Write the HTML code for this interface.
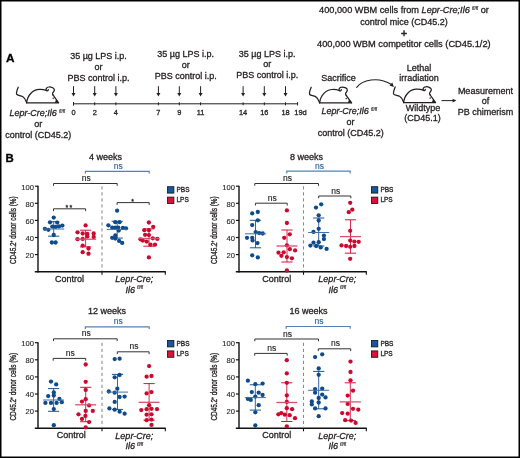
<!DOCTYPE html>
<html><head><meta charset="utf-8"><style>
html,body{margin:0;padding:0;background:#fff;}
#wrap{position:relative;width:520px;height:458px;overflow:hidden;background:#fff;}
svg{position:absolute;left:0;top:0;font-family:"Liberation Sans", sans-serif;will-change:transform;}
svg text{}
</style></head><body><div id="wrap">
<svg width="520" height="458" viewBox="0 0 520 458" stroke-width="0.3">
<text x="5.9" y="61.6" font-size="11.8" text-anchor="start" fill="#000" stroke="#000" font-weight="bold" >A</text>
<g transform="translate(0.00,0.00)" fill="none" stroke="#231f20" stroke-width="1.25" stroke-linecap="round" stroke-linejoin="round">
<path d="M18.2,87.2 C17.2,89.5 16.2,92.5 16.6,94.2 C17.5,95.6 20.5,95.3 22.6,96.5 C24.6,97.7 25.8,99.8 26.6,102.5"/>
<path d="M26.6,102.8 C27.5,95 33,89.6 39.5,89.4 C42,89.3 44.3,89.7 46.3,90.4"/>
<path d="M46.3,90.4 C45.4,89.2 46.6,87.2 48.6,87 C51,86.7 53.9,87.9 54.3,89.6 C54.7,91 53.3,92 52.7,93 C52.1,94 52.6,94.6 53.2,95.2"/>
<path d="M46.6,90.6 C47.4,91 48.2,90.6 48.3,89.6"/>
<path d="M53.2,95.2 L58.4,102.6"/>
<path d="M26.6,102.8 L58.6,102.8" stroke-width="1.2"/>
</g>
<g transform="translate(0.00,0.00)">
<path d="M54.8,102.7 L58.9,102.7 L56.2,99.2 Z" fill="#231f20"/>
<circle cx="53.2" cy="98.3" r="0.75" fill="#231f20"/>
</g>
<text x="9.5" y="116.2" font-size="9" text-anchor="start" fill="#231f20" stroke="#231f20"><tspan font-style="italic">Lepr-Cre;Il6</tspan><tspan font-size="4.7" dy="-3.3" dx="2.2" font-style="italic" stroke-width="0.15">fl/fl</tspan></text>
<text x="38.3" y="126.9" font-size="9" text-anchor="middle" fill="#231f20" stroke="#231f20" >or</text>
<text x="38.2" y="138.2" font-size="9" text-anchor="middle" fill="#231f20" stroke="#231f20" >control (CD45.2)</text>
<text x="98.5" y="58.9" font-size="9" text-anchor="middle" fill="#231f20" stroke="#231f20" >35 µg LPS i.p.</text>
<text x="98.5" y="69.7" font-size="9" text-anchor="middle" fill="#231f20" stroke="#231f20" >or</text>
<text x="98.5" y="80.7" font-size="9" text-anchor="middle" fill="#231f20" stroke="#231f20" >PBS control i.p.</text>
<text x="185.7" y="57.4" font-size="9" text-anchor="middle" fill="#231f20" stroke="#231f20" >35 µg LPS i.p.</text>
<text x="185.7" y="68.2" font-size="9" text-anchor="middle" fill="#231f20" stroke="#231f20" >or</text>
<text x="185.7" y="79.2" font-size="9" text-anchor="middle" fill="#231f20" stroke="#231f20" >PBS control i.p.</text>
<text x="267.2" y="56.6" font-size="9" text-anchor="middle" fill="#231f20" stroke="#231f20" >35 µg LPS i.p.</text>
<text x="267.2" y="67.4" font-size="9" text-anchor="middle" fill="#231f20" stroke="#231f20" >or</text>
<text x="267.2" y="78.4" font-size="9" text-anchor="middle" fill="#231f20" stroke="#231f20" >PBS control i.p.</text>
<line x1="73.3" y1="103.8" x2="297.6" y2="103.8" stroke="#231f20" stroke-width="1" />
<line x1="73.5" y1="102.1" x2="73.5" y2="105.5" stroke="#231f20" stroke-width="1" />
<line x1="297.6" y1="102.1" x2="297.6" y2="105.5" stroke="#231f20" stroke-width="1" />
<line x1="73.5" y1="102.3" x2="73.5" y2="105.3" stroke="#231f20" stroke-width="1" />
<line x1="73.5" y1="86.2" x2="73.5" y2="93.5" stroke="#231f20" stroke-width="1" />
<path d="M71.5,92.9 L75.5,92.9 L73.5,96.5 Z" fill="#231f20"/>
<text x="73.5" y="114.8" font-size="7.4" text-anchor="middle" fill="#231f20" stroke="#231f20" >0</text>
<line x1="94.7" y1="102.3" x2="94.7" y2="105.3" stroke="#231f20" stroke-width="1" />
<line x1="94.7" y1="86.2" x2="94.7" y2="93.5" stroke="#231f20" stroke-width="1" />
<path d="M92.7,92.9 L96.7,92.9 L94.7,96.5 Z" fill="#231f20"/>
<text x="94.7" y="114.8" font-size="7.4" text-anchor="middle" fill="#231f20" stroke="#231f20" >2</text>
<line x1="115.9" y1="102.3" x2="115.9" y2="105.3" stroke="#231f20" stroke-width="1" />
<line x1="115.9" y1="86.2" x2="115.9" y2="93.5" stroke="#231f20" stroke-width="1" />
<path d="M113.9,92.9 L117.9,92.9 L115.9,96.5 Z" fill="#231f20"/>
<text x="115.9" y="114.8" font-size="7.4" text-anchor="middle" fill="#231f20" stroke="#231f20" >4</text>
<line x1="158.4" y1="102.3" x2="158.4" y2="105.3" stroke="#231f20" stroke-width="1" />
<line x1="158.4" y1="86.2" x2="158.4" y2="93.5" stroke="#231f20" stroke-width="1" />
<path d="M156.4,92.9 L160.4,92.9 L158.4,96.5 Z" fill="#231f20"/>
<text x="158.4" y="114.8" font-size="7.4" text-anchor="middle" fill="#231f20" stroke="#231f20" >7</text>
<line x1="179.3" y1="102.3" x2="179.3" y2="105.3" stroke="#231f20" stroke-width="1" />
<line x1="179.3" y1="86.2" x2="179.3" y2="93.5" stroke="#231f20" stroke-width="1" />
<path d="M177.3,92.9 L181.3,92.9 L179.3,96.5 Z" fill="#231f20"/>
<text x="179.3" y="114.8" font-size="7.4" text-anchor="middle" fill="#231f20" stroke="#231f20" >9</text>
<line x1="200.6" y1="102.3" x2="200.6" y2="105.3" stroke="#231f20" stroke-width="1" />
<line x1="200.6" y1="86.2" x2="200.6" y2="93.5" stroke="#231f20" stroke-width="1" />
<path d="M198.6,92.9 L202.6,92.9 L200.6,96.5 Z" fill="#231f20"/>
<text x="200.6" y="114.8" font-size="7.4" text-anchor="middle" fill="#231f20" stroke="#231f20" >11</text>
<line x1="243.1" y1="102.3" x2="243.1" y2="105.3" stroke="#231f20" stroke-width="1" />
<line x1="243.1" y1="86.2" x2="243.1" y2="93.5" stroke="#231f20" stroke-width="1" />
<path d="M241.1,92.9 L245.1,92.9 L243.1,96.5 Z" fill="#231f20"/>
<text x="243.1" y="114.8" font-size="7.4" text-anchor="middle" fill="#231f20" stroke="#231f20" >14</text>
<line x1="264.3" y1="102.3" x2="264.3" y2="105.3" stroke="#231f20" stroke-width="1" />
<line x1="264.3" y1="86.2" x2="264.3" y2="93.5" stroke="#231f20" stroke-width="1" />
<path d="M262.3,92.9 L266.3,92.9 L264.3,96.5 Z" fill="#231f20"/>
<text x="264.3" y="114.8" font-size="7.4" text-anchor="middle" fill="#231f20" stroke="#231f20" >16</text>
<line x1="285.5" y1="102.3" x2="285.5" y2="105.3" stroke="#231f20" stroke-width="1" />
<line x1="285.5" y1="86.2" x2="285.5" y2="93.5" stroke="#231f20" stroke-width="1" />
<path d="M283.5,92.9 L287.5,92.9 L285.5,96.5 Z" fill="#231f20"/>
<text x="285.5" y="114.8" font-size="7.4" text-anchor="middle" fill="#231f20" stroke="#231f20" >18</text>
<text x="300.5" y="114.8" font-size="7.5" text-anchor="middle" fill="#231f20" stroke="#231f20" >19d</text>
<text x="404" y="13.5" font-size="9" text-anchor="middle" fill="#231f20" stroke="#231f20" transform="translate(404,0) scale(1.02,1) translate(-404,0)">400,000 WBM cells from <tspan font-style="italic">Lepr-Cre;Il6</tspan><tspan font-size="4.7" dy="-3.3" dx="2.2" font-style="italic" stroke-width="0.15">fl/fl</tspan><tspan dy="3.1"> or</tspan></text>
<text x="404" y="24.6" font-size="9" text-anchor="middle" fill="#231f20" stroke="#231f20" >control mice (CD45.2)</text>
<text x="404" y="37.0" font-size="10.5" text-anchor="middle" fill="#231f20" stroke="#231f20" stroke-width="0.5">+</text>
<text x="403.85" y="46.5" font-size="9" text-anchor="middle" fill="#231f20" stroke="#231f20" textLength="173.6" lengthAdjust="spacingAndGlyphs">400,000 WBM competitor cells (CD45.1/2)</text>
<text x="338.5" y="80.8" font-size="9" text-anchor="middle" fill="#231f20" stroke="#231f20" >Sacrifice</text>
<g transform="translate(293.00,0.10)" fill="none" stroke="#231f20" stroke-width="1.25" stroke-linecap="round" stroke-linejoin="round">
<path d="M18.2,87.2 C17.2,89.5 16.2,92.5 16.6,94.2 C17.5,95.6 20.5,95.3 22.6,96.5 C24.6,97.7 25.8,99.8 26.6,102.5"/>
<path d="M26.6,102.8 C27.5,95 33,89.6 39.5,89.4 C42,89.3 44.3,89.7 46.3,90.4"/>
<path d="M46.3,90.4 C45.4,89.2 46.6,87.2 48.6,87 C51,86.7 53.9,87.9 54.3,89.6 C54.7,91 53.3,92 52.7,93 C52.1,94 52.6,94.6 53.2,95.2"/>
<path d="M46.6,90.6 C47.4,91 48.2,90.6 48.3,89.6"/>
<path d="M53.2,95.2 L58.4,102.6"/>
<path d="M26.6,102.8 L58.6,102.8" stroke-width="1.2"/>
</g>
<g transform="translate(293.00,0.10)">
<path d="M54.8,102.7 L58.9,102.7 L56.2,99.2 Z" fill="#231f20"/>
<circle cx="53.2" cy="98.3" r="0.75" fill="#231f20"/>
</g>
<text x="321.5" y="113.8" font-size="9" text-anchor="start" fill="#231f20" stroke="#231f20"><tspan font-style="italic">Lepr-Cre;Il6</tspan><tspan font-size="4.7" dy="-3.3" dx="2.2" font-style="italic" stroke-width="0.15">fl/fl</tspan></text>
<text x="350.4" y="124.6" font-size="9" text-anchor="middle" fill="#231f20" stroke="#231f20" >or</text>
<text x="350.8" y="135.8" font-size="9" text-anchor="middle" fill="#231f20" stroke="#231f20" >control (CD45.2)</text>
<path d="M356.4,87.6 C362,80 378,76 391.5,84.6" fill="none" stroke="#231f20" stroke-width="1.2"/>
<path d="M393.9,87 L389.6,85.4 L392.3,82.6 Z" fill="#231f20"/>
<text x="419" y="70.9" font-size="9" text-anchor="middle" fill="#231f20" stroke="#231f20" >Lethal</text>
<text x="419" y="81" font-size="9" text-anchor="middle" fill="#231f20" stroke="#231f20" >irradiation</text>
<g transform="translate(377.00,-0.20)" fill="none" stroke="#231f20" stroke-width="1.25" stroke-linecap="round" stroke-linejoin="round">
<path d="M18.2,87.2 C17.2,89.5 16.2,92.5 16.6,94.2 C17.5,95.6 20.5,95.3 22.6,96.5 C24.6,97.7 25.8,99.8 26.6,102.5"/>
<path d="M26.6,102.8 C27.5,95 33,89.6 39.5,89.4 C42,89.3 44.3,89.7 46.3,90.4"/>
<path d="M46.3,90.4 C45.4,89.2 46.6,87.2 48.6,87 C51,86.7 53.9,87.9 54.3,89.6 C54.7,91 53.3,92 52.7,93 C52.1,94 52.6,94.6 53.2,95.2"/>
<path d="M46.6,90.6 C47.4,91 48.2,90.6 48.3,89.6"/>
<path d="M53.2,95.2 L58.4,102.6"/>
<path d="M26.6,102.8 L58.6,102.8" stroke-width="1.2"/>
</g>
<g transform="translate(377.00,-0.20)">
<path d="M54.8,102.7 L58.9,102.7 L56.2,99.2 Z" fill="#231f20"/>
<circle cx="53.2" cy="98.3" r="0.75" fill="#231f20"/>
</g>
<text x="423" y="111.2" font-size="9" text-anchor="middle" fill="#231f20" stroke="#231f20" >Wildtype</text>
<text x="422.6" y="121.3" font-size="9" text-anchor="middle" fill="#231f20" stroke="#231f20" >(CD45.1)</text>
<line x1="441.5" y1="100.6" x2="453.5" y2="100.6" stroke="#231f20" stroke-width="1" />
<path d="M452.6,98.8 L456.4,100.6 L452.6,102.4 Z" fill="#231f20"/>
<text x="485.4" y="93.7" font-size="9" text-anchor="middle" fill="#231f20" stroke="#231f20" >Measurement</text>
<text x="485.4" y="104.3" font-size="9" text-anchor="middle" fill="#231f20" stroke="#231f20" >of</text>
<text x="485.4" y="115.1" font-size="9" text-anchor="middle" fill="#231f20" stroke="#231f20" >PB chimerism</text>
<text x="5.4" y="162.1" font-size="11.4" text-anchor="start" fill="#000" stroke="#000" font-weight="bold" >B</text>
<text x="105.6" y="160" font-size="9" text-anchor="middle" fill="#231f20" stroke="#231f20" >4 weeks</text>
<line x1="38" y1="185.7" x2="38" y2="272.4" stroke="#111" stroke-width="1.4" />
<line x1="34.9" y1="186.2" x2="38" y2="186.2" stroke="#111" stroke-width="1.15" />
<text x="33.9" y="189.5" font-size="7.6" text-anchor="end" fill="#231f20" stroke="#231f20" stroke-width="0.12">100</text>
<line x1="34.9" y1="203.3" x2="38" y2="203.3" stroke="#111" stroke-width="1.15" />
<text x="33.9" y="206.6" font-size="7.6" text-anchor="end" fill="#231f20" stroke="#231f20" stroke-width="0.12">80</text>
<line x1="34.9" y1="220.4" x2="38" y2="220.4" stroke="#111" stroke-width="1.15" />
<text x="33.9" y="223.7" font-size="7.6" text-anchor="end" fill="#231f20" stroke="#231f20" stroke-width="0.12">60</text>
<line x1="34.9" y1="237.5" x2="38" y2="237.5" stroke="#111" stroke-width="1.15" />
<text x="33.9" y="240.8" font-size="7.6" text-anchor="end" fill="#231f20" stroke="#231f20" stroke-width="0.12">40</text>
<line x1="34.9" y1="254.6" x2="38" y2="254.6" stroke="#111" stroke-width="1.15" />
<text x="33.9" y="257.9" font-size="7.6" text-anchor="end" fill="#231f20" stroke="#231f20" stroke-width="0.12">20</text>
<line x1="34.8" y1="271.7" x2="165.8" y2="271.7" stroke="#111" stroke-width="1.4" />
<line x1="165.3" y1="271.7" x2="165.3" y2="274.8" stroke="#111" stroke-width="1.1" />
<line x1="102" y1="271.7" x2="102" y2="274.8" stroke="#111" stroke-width="1.1" />
<line x1="102" y1="186.2" x2="102" y2="271.2" stroke="#8a8a8a" stroke-width="1.05" stroke-dasharray="3.4,2.6"/>
<text transform="translate(16.0,230.2) rotate(-90)" font-size="8.8" stroke-width="0.35" text-anchor="middle" fill="#231f20" stroke="#231f20" textLength="67.6" lengthAdjust="spacingAndGlyphs">CD45.2<tspan font-size="4.5" dy="-2.6">+</tspan><tspan dy="2.6"> donor cells (%)</tspan></text>
<text x="69.5" y="281.9" font-size="9" text-anchor="middle" fill="#231f20" stroke="#231f20" >Control</text>
<text x="134.3" y="282.2" font-size="9" text-anchor="middle" fill="#231f20" stroke="#231f20" font-style="italic" >Lepr-Cre;</text>
<text x="125.4" y="292.7" font-size="9" fill="#231f20" stroke="#231f20" font-style="italic">Il6<tspan font-size="4.7" dy="-3.3" dx="2.2" stroke-width="0.15">fl/fl</tspan></text>
<rect x="167.5" y="186.7" width="6.4" height="6.4" fill="#195896" stroke="#111" stroke-width="0.8"/>
<rect x="167.5" y="197.1" width="6.4" height="6.4" fill="#d4153b" stroke="#111" stroke-width="0.8"/>
<text x="176.5" y="191.8" font-size="6.5" text-anchor="start" fill="#231f20" stroke="#231f20" >PBS</text>
<text x="176.5" y="202.2" font-size="6.5" text-anchor="start" fill="#231f20" stroke="#231f20" >LPS</text>
<path d="M53.5,185.8 L53.5,183.5 L117.2,183.5 L117.2,185.8" fill="none" stroke="#333" stroke-width="1.0"/>
<text x="86.25" y="180.9" font-size="8.5" text-anchor="middle" fill="#231f20" stroke="#231f20" stroke-width="0.15">ns</text>
<path d="M85.4,173.60000000000002 L85.4,171.3 L149.2,171.3 L149.2,173.60000000000002" fill="none" stroke="#5283b6" stroke-width="1.2"/>
<text x="118.2" y="168.5" font-size="8.5" text-anchor="middle" fill="#2e65a0" stroke="#2e65a0" stroke-width="0.15">ns</text>
<path d="M53.5,211.10000000000002 L53.5,208.8 L85.6,208.8 L85.6,211.10000000000002" fill="none" stroke="#333" stroke-width="1.0"/>
<text x="69.55" y="209.9" font-size="7" text-anchor="middle" fill="#231f20" stroke="#231f20" letter-spacing="1.2">**</text>
<path d="M117.1,204.9 L117.1,202.6 L149.2,202.6 L149.2,204.9" fill="none" stroke="#333" stroke-width="1.0"/>
<text x="133.15" y="203.7" font-size="7" text-anchor="middle" fill="#231f20" stroke="#231f20" letter-spacing="1.2">*</text>
<line x1="53.7" y1="221.7" x2="53.7" y2="236.2" stroke="#0e4b8c" stroke-width="0.85" />
<line x1="48.1" y1="221.7" x2="59.300000000000004" y2="221.7" stroke="#0e4b8c" stroke-width="0.95" />
<line x1="48.1" y1="236.2" x2="59.300000000000004" y2="236.2" stroke="#0e4b8c" stroke-width="0.95" />
<circle cx="53.7" cy="217.6" r="2.15" fill="#0e4b8c"/>
<circle cx="50" cy="222.3" r="2.15" fill="#0e4b8c"/>
<circle cx="57.2" cy="222.6" r="2.15" fill="#0e4b8c"/>
<circle cx="52.3" cy="226.6" r="2.15" fill="#0e4b8c"/>
<circle cx="55.6" cy="226.9" r="2.15" fill="#0e4b8c"/>
<circle cx="59" cy="226.4" r="2.15" fill="#0e4b8c"/>
<circle cx="62.4" cy="225.6" r="2.15" fill="#0e4b8c"/>
<circle cx="44.9" cy="228.8" r="2.15" fill="#0e4b8c"/>
<circle cx="48.4" cy="229.8" r="2.15" fill="#0e4b8c"/>
<circle cx="53.7" cy="235" r="2.15" fill="#0e4b8c"/>
<circle cx="51.9" cy="242.5" r="2.15" fill="#0e4b8c"/>
<circle cx="55.6" cy="242.5" r="2.15" fill="#0e4b8c"/>
<line x1="43.2" y1="229.0" x2="64.2" y2="229.0" stroke="#3f70a6" stroke-width="1.0" />
<line x1="85.6" y1="230.2" x2="85.6" y2="246.9" stroke="#cc0a2e" stroke-width="0.85" />
<line x1="80.0" y1="230.2" x2="91.19999999999999" y2="230.2" stroke="#cc0a2e" stroke-width="0.95" />
<line x1="80.0" y1="246.9" x2="91.19999999999999" y2="246.9" stroke="#cc0a2e" stroke-width="0.95" />
<circle cx="85.6" cy="225.4" r="2.15" fill="#cc0a2e"/>
<circle cx="77.5" cy="232.3" r="2.15" fill="#cc0a2e"/>
<circle cx="82.7" cy="233.5" r="2.15" fill="#cc0a2e"/>
<circle cx="87.3" cy="234" r="2.15" fill="#cc0a2e"/>
<circle cx="93.7" cy="233.5" r="2.15" fill="#cc0a2e"/>
<circle cx="87.3" cy="236.5" r="2.15" fill="#cc0a2e"/>
<circle cx="93.7" cy="237" r="2.15" fill="#cc0a2e"/>
<circle cx="77.5" cy="239.2" r="2.15" fill="#cc0a2e"/>
<circle cx="82.7" cy="238.9" r="2.15" fill="#cc0a2e"/>
<circle cx="82.7" cy="245.6" r="2.15" fill="#cc0a2e"/>
<circle cx="88.5" cy="248.5" r="2.15" fill="#cc0a2e"/>
<circle cx="82.7" cy="252.2" r="2.15" fill="#cc0a2e"/>
<circle cx="88.5" cy="253.7" r="2.15" fill="#cc0a2e"/>
<line x1="75.1" y1="239.2" x2="96.1" y2="239.2" stroke="#d8506c" stroke-width="1.3" />
<line x1="117.2" y1="221.3" x2="117.2" y2="238.1" stroke="#0e4b8c" stroke-width="0.85" />
<line x1="111.60000000000001" y1="221.3" x2="122.8" y2="221.3" stroke="#0e4b8c" stroke-width="0.95" />
<line x1="111.60000000000001" y1="238.1" x2="122.8" y2="238.1" stroke="#0e4b8c" stroke-width="0.95" />
<circle cx="117.1" cy="210.7" r="2.15" fill="#0e4b8c"/>
<circle cx="115.3" cy="222.2" r="2.15" fill="#0e4b8c"/>
<circle cx="119.5" cy="222.2" r="2.15" fill="#0e4b8c"/>
<circle cx="108.4" cy="225.3" r="2.15" fill="#0e4b8c"/>
<circle cx="112.2" cy="227.6" r="2.15" fill="#0e4b8c"/>
<circle cx="115.3" cy="227.6" r="2.15" fill="#0e4b8c"/>
<circle cx="118.3" cy="227.6" r="2.15" fill="#0e4b8c"/>
<circle cx="122.9" cy="227.9" r="2.15" fill="#0e4b8c"/>
<circle cx="126" cy="228.3" r="2.15" fill="#0e4b8c"/>
<circle cx="118.7" cy="230.6" r="2.15" fill="#0e4b8c"/>
<circle cx="115.3" cy="235.5" r="2.15" fill="#0e4b8c"/>
<circle cx="112.2" cy="237.8" r="2.15" fill="#0e4b8c"/>
<circle cx="115.3" cy="238.6" r="2.15" fill="#0e4b8c"/>
<circle cx="119.1" cy="240.9" r="2.15" fill="#0e4b8c"/>
<circle cx="122.2" cy="242.9" r="2.15" fill="#0e4b8c"/>
<line x1="106.7" y1="229.4" x2="127.7" y2="229.4" stroke="#3f70a6" stroke-width="1.0" />
<line x1="149" y1="228.9" x2="149" y2="246.2" stroke="#cc0a2e" stroke-width="0.85" />
<line x1="143.4" y1="228.9" x2="154.6" y2="228.9" stroke="#cc0a2e" stroke-width="0.95" />
<line x1="143.4" y1="246.2" x2="154.6" y2="246.2" stroke="#cc0a2e" stroke-width="0.95" />
<circle cx="148.9" cy="222.5" r="2.15" fill="#cc0a2e"/>
<circle cx="153.2" cy="226.8" r="2.15" fill="#cc0a2e"/>
<circle cx="144.3" cy="230.2" r="2.15" fill="#cc0a2e"/>
<circle cx="148.9" cy="230.2" r="2.15" fill="#cc0a2e"/>
<circle cx="145.1" cy="234.8" r="2.15" fill="#cc0a2e"/>
<circle cx="148.9" cy="235.1" r="2.15" fill="#cc0a2e"/>
<circle cx="140.5" cy="239.3" r="2.15" fill="#cc0a2e"/>
<circle cx="142.8" cy="240.6" r="2.15" fill="#cc0a2e"/>
<circle cx="152.8" cy="238.3" r="2.15" fill="#cc0a2e"/>
<circle cx="157.3" cy="238.9" r="2.15" fill="#cc0a2e"/>
<circle cx="146.6" cy="241.6" r="2.15" fill="#cc0a2e"/>
<circle cx="150.5" cy="244.7" r="2.15" fill="#cc0a2e"/>
<circle cx="155" cy="244.7" r="2.15" fill="#cc0a2e"/>
<circle cx="148.9" cy="257.4" r="2.15" fill="#cc0a2e"/>
<line x1="138.5" y1="238.5" x2="159.5" y2="238.5" stroke="#d8506c" stroke-width="1.3" />
<text x="306.6" y="160.4" font-size="9" text-anchor="middle" fill="#231f20" stroke="#231f20" >8 weeks</text>
<line x1="239" y1="185.7" x2="239" y2="272.4" stroke="#111" stroke-width="1.4" />
<line x1="235.9" y1="186.2" x2="239" y2="186.2" stroke="#111" stroke-width="1.15" />
<text x="234.9" y="189.5" font-size="7.6" text-anchor="end" fill="#231f20" stroke="#231f20" stroke-width="0.12">100</text>
<line x1="235.9" y1="203.3" x2="239" y2="203.3" stroke="#111" stroke-width="1.15" />
<text x="234.9" y="206.6" font-size="7.6" text-anchor="end" fill="#231f20" stroke="#231f20" stroke-width="0.12">80</text>
<line x1="235.9" y1="220.4" x2="239" y2="220.4" stroke="#111" stroke-width="1.15" />
<text x="234.9" y="223.7" font-size="7.6" text-anchor="end" fill="#231f20" stroke="#231f20" stroke-width="0.12">60</text>
<line x1="235.9" y1="237.5" x2="239" y2="237.5" stroke="#111" stroke-width="1.15" />
<text x="234.9" y="240.8" font-size="7.6" text-anchor="end" fill="#231f20" stroke="#231f20" stroke-width="0.12">40</text>
<line x1="235.9" y1="254.6" x2="239" y2="254.6" stroke="#111" stroke-width="1.15" />
<text x="234.9" y="257.9" font-size="7.6" text-anchor="end" fill="#231f20" stroke="#231f20" stroke-width="0.12">20</text>
<line x1="235.8" y1="271.7" x2="366.8" y2="271.7" stroke="#111" stroke-width="1.4" />
<line x1="366.3" y1="271.7" x2="366.3" y2="274.8" stroke="#111" stroke-width="1.1" />
<line x1="303.5" y1="271.7" x2="303.5" y2="274.8" stroke="#111" stroke-width="1.1" />
<line x1="303.5" y1="186.2" x2="303.5" y2="271.2" stroke="#8a8a8a" stroke-width="1.05" stroke-dasharray="3.4,2.6"/>
<text transform="translate(217.0,230.2) rotate(-90)" font-size="8.8" stroke-width="0.35" text-anchor="middle" fill="#231f20" stroke="#231f20" textLength="67.6" lengthAdjust="spacingAndGlyphs">CD45.2<tspan font-size="4.5" dy="-2.6">+</tspan><tspan dy="2.6"> donor cells (%)</tspan></text>
<text x="276.7" y="281.9" font-size="9" text-anchor="middle" fill="#231f20" stroke="#231f20" >Control</text>
<text x="337.3" y="282.2" font-size="9" text-anchor="middle" fill="#231f20" stroke="#231f20" font-style="italic" >Lepr-Cre;</text>
<text x="328.4" y="292.7" font-size="9" fill="#231f20" stroke="#231f20" font-style="italic">Il6<tspan font-size="4.7" dy="-3.3" dx="2.2" stroke-width="0.15">fl/fl</tspan></text>
<rect x="371.4" y="186.7" width="6.4" height="6.4" fill="#195896" stroke="#111" stroke-width="0.8"/>
<rect x="371.4" y="197.1" width="6.4" height="6.4" fill="#d4153b" stroke="#111" stroke-width="0.8"/>
<text x="380.4" y="191.8" font-size="6.5" text-anchor="start" fill="#231f20" stroke="#231f20" >PBS</text>
<text x="380.4" y="202.2" font-size="6.5" text-anchor="start" fill="#231f20" stroke="#231f20" >LPS</text>
<path d="M254.8,185.8 L254.8,183.5 L318.5,183.5 L318.5,185.8" fill="none" stroke="#333" stroke-width="1.0"/>
<text x="287.55" y="180.9" font-size="8.5" text-anchor="middle" fill="#231f20" stroke="#231f20" stroke-width="0.15">ns</text>
<path d="M286.8,173.5 L286.8,171.2 L350.2,171.2 L350.2,173.5" fill="none" stroke="#5283b6" stroke-width="1.2"/>
<text x="319.4" y="168.5" font-size="8.5" text-anchor="middle" fill="#2e65a0" stroke="#2e65a0" stroke-width="0.15">ns</text>
<path d="M255.4,205.5 L255.4,203.2 L287.2,203.2 L287.2,205.5" fill="none" stroke="#333" stroke-width="1.0"/>
<text x="272.2" y="201.3" font-size="8.5" text-anchor="middle" fill="#231f20" stroke="#231f20" stroke-width="0.15">ns</text>
<path d="M318.7,198.3 L318.7,196.0 L350.8,196.0 L350.8,198.3" fill="none" stroke="#333" stroke-width="1.0"/>
<text x="335.65" y="194.0" font-size="8.5" text-anchor="middle" fill="#231f20" stroke="#231f20" stroke-width="0.15">ns</text>
<line x1="255.5" y1="220.3" x2="255.5" y2="247.8" stroke="#0e4b8c" stroke-width="0.85" />
<line x1="249.9" y1="220.3" x2="261.1" y2="220.3" stroke="#0e4b8c" stroke-width="0.95" />
<line x1="249.9" y1="247.8" x2="261.1" y2="247.8" stroke="#0e4b8c" stroke-width="0.95" />
<circle cx="252.2" cy="213.4" r="2.15" fill="#0e4b8c"/>
<circle cx="257.8" cy="212" r="2.15" fill="#0e4b8c"/>
<circle cx="257.8" cy="220.3" r="2.15" fill="#0e4b8c"/>
<circle cx="252.2" cy="225.1" r="2.15" fill="#0e4b8c"/>
<circle cx="255.7" cy="232.1" r="2.15" fill="#0e4b8c"/>
<circle cx="259.2" cy="233.1" r="2.15" fill="#0e4b8c"/>
<circle cx="262.7" cy="233.5" r="2.15" fill="#0e4b8c"/>
<circle cx="247" cy="237.8" r="2.15" fill="#0e4b8c"/>
<circle cx="252.2" cy="237.8" r="2.15" fill="#0e4b8c"/>
<circle cx="252.6" cy="240.4" r="2.15" fill="#0e4b8c"/>
<circle cx="257.5" cy="243.1" r="2.15" fill="#0e4b8c"/>
<circle cx="252.2" cy="255.3" r="2.15" fill="#0e4b8c"/>
<circle cx="257.8" cy="257.4" r="2.15" fill="#0e4b8c"/>
<line x1="245.0" y1="233.8" x2="266.0" y2="233.8" stroke="#3f70a6" stroke-width="1.0" />
<line x1="287" y1="230" x2="287" y2="262" stroke="#cc0a2e" stroke-width="0.85" />
<line x1="281.4" y1="230" x2="292.6" y2="230" stroke="#cc0a2e" stroke-width="0.95" />
<line x1="281.4" y1="262" x2="292.6" y2="262" stroke="#cc0a2e" stroke-width="0.95" />
<circle cx="286.9" cy="210.4" r="2.15" fill="#cc0a2e"/>
<circle cx="286.9" cy="223" r="2.15" fill="#cc0a2e"/>
<circle cx="289.8" cy="234.3" r="2.15" fill="#cc0a2e"/>
<circle cx="284.2" cy="237.8" r="2.15" fill="#cc0a2e"/>
<circle cx="286.9" cy="245.3" r="2.15" fill="#cc0a2e"/>
<circle cx="289.8" cy="249.2" r="2.15" fill="#cc0a2e"/>
<circle cx="295.1" cy="250.4" r="2.15" fill="#cc0a2e"/>
<circle cx="278.5" cy="252.7" r="2.15" fill="#cc0a2e"/>
<circle cx="283.7" cy="252.3" r="2.15" fill="#cc0a2e"/>
<circle cx="281.4" cy="255.8" r="2.15" fill="#cc0a2e"/>
<circle cx="286.9" cy="257.1" r="2.15" fill="#cc0a2e"/>
<circle cx="291.9" cy="258.3" r="2.15" fill="#cc0a2e"/>
<circle cx="286.9" cy="270.5" r="2.15" fill="#cc0a2e"/>
<line x1="276.5" y1="246" x2="297.5" y2="246" stroke="#d8506c" stroke-width="1.3" />
<line x1="318.7" y1="218" x2="318.7" y2="246" stroke="#0e4b8c" stroke-width="0.85" />
<line x1="313.09999999999997" y1="218" x2="324.3" y2="218" stroke="#0e4b8c" stroke-width="0.95" />
<line x1="313.09999999999997" y1="246" x2="324.3" y2="246" stroke="#0e4b8c" stroke-width="0.95" />
<circle cx="321.2" cy="204.3" r="2.15" fill="#0e4b8c"/>
<circle cx="316" cy="207.6" r="2.15" fill="#0e4b8c"/>
<circle cx="318.7" cy="215.3" r="2.15" fill="#0e4b8c"/>
<circle cx="318.7" cy="220.5" r="2.15" fill="#0e4b8c"/>
<circle cx="318.7" cy="228.8" r="2.15" fill="#0e4b8c"/>
<circle cx="313.5" cy="231.9" r="2.15" fill="#0e4b8c"/>
<circle cx="323.9" cy="235.6" r="2.15" fill="#0e4b8c"/>
<circle cx="323.9" cy="239.1" r="2.15" fill="#0e4b8c"/>
<circle cx="318.7" cy="242.2" r="2.15" fill="#0e4b8c"/>
<circle cx="313.5" cy="242.7" r="2.15" fill="#0e4b8c"/>
<circle cx="310.4" cy="245.6" r="2.15" fill="#0e4b8c"/>
<circle cx="316.2" cy="246" r="2.15" fill="#0e4b8c"/>
<circle cx="320.7" cy="247.4" r="2.15" fill="#0e4b8c"/>
<circle cx="326.6" cy="248.9" r="2.15" fill="#0e4b8c"/>
<line x1="308.2" y1="232.5" x2="329.2" y2="232.5" stroke="#3f70a6" stroke-width="1.0" />
<line x1="350.5" y1="219.8" x2="350.5" y2="253.2" stroke="#cc0a2e" stroke-width="0.85" />
<line x1="344.9" y1="219.8" x2="356.1" y2="219.8" stroke="#cc0a2e" stroke-width="0.95" />
<line x1="344.9" y1="253.2" x2="356.1" y2="253.2" stroke="#cc0a2e" stroke-width="0.95" />
<circle cx="350.2" cy="202.8" r="2.15" fill="#cc0a2e"/>
<circle cx="352.3" cy="209.7" r="2.15" fill="#cc0a2e"/>
<circle cx="348.8" cy="212.2" r="2.15" fill="#cc0a2e"/>
<circle cx="350.2" cy="230.8" r="2.15" fill="#cc0a2e"/>
<circle cx="350.2" cy="240.6" r="2.15" fill="#cc0a2e"/>
<circle cx="354.4" cy="241.6" r="2.15" fill="#cc0a2e"/>
<circle cx="358.7" cy="241.8" r="2.15" fill="#cc0a2e"/>
<circle cx="341.5" cy="245.4" r="2.15" fill="#cc0a2e"/>
<circle cx="346.1" cy="246" r="2.15" fill="#cc0a2e"/>
<circle cx="350.2" cy="246.8" r="2.15" fill="#cc0a2e"/>
<circle cx="354.4" cy="246" r="2.15" fill="#cc0a2e"/>
<circle cx="350.2" cy="258.8" r="2.15" fill="#cc0a2e"/>
<line x1="340.0" y1="236.6" x2="361.0" y2="236.6" stroke="#d8506c" stroke-width="1.3" />
<text x="107" y="314.2" font-size="9" text-anchor="middle" fill="#231f20" stroke="#231f20" >12 weeks</text>
<line x1="38" y1="342.2" x2="38" y2="428.9" stroke="#111" stroke-width="1.4" />
<line x1="34.9" y1="342.7" x2="38" y2="342.7" stroke="#111" stroke-width="1.15" />
<text x="33.9" y="346.0" font-size="7.6" text-anchor="end" fill="#231f20" stroke="#231f20" stroke-width="0.12">100</text>
<line x1="34.9" y1="359.8" x2="38" y2="359.8" stroke="#111" stroke-width="1.15" />
<text x="33.9" y="363.1" font-size="7.6" text-anchor="end" fill="#231f20" stroke="#231f20" stroke-width="0.12">80</text>
<line x1="34.9" y1="376.9" x2="38" y2="376.9" stroke="#111" stroke-width="1.15" />
<text x="33.9" y="380.2" font-size="7.6" text-anchor="end" fill="#231f20" stroke="#231f20" stroke-width="0.12">60</text>
<line x1="34.9" y1="394.0" x2="38" y2="394.0" stroke="#111" stroke-width="1.15" />
<text x="33.9" y="397.3" font-size="7.6" text-anchor="end" fill="#231f20" stroke="#231f20" stroke-width="0.12">40</text>
<line x1="34.9" y1="411.1" x2="38" y2="411.1" stroke="#111" stroke-width="1.15" />
<text x="33.9" y="414.4" font-size="7.6" text-anchor="end" fill="#231f20" stroke="#231f20" stroke-width="0.12">20</text>
<line x1="34.8" y1="428.2" x2="165.8" y2="428.2" stroke="#111" stroke-width="1.4" />
<line x1="165.3" y1="428.2" x2="165.3" y2="431.3" stroke="#111" stroke-width="1.1" />
<line x1="102" y1="428.2" x2="102" y2="431.3" stroke="#111" stroke-width="1.1" />
<line x1="102" y1="342.7" x2="102" y2="427.7" stroke="#8a8a8a" stroke-width="1.05" stroke-dasharray="3.4,2.6"/>
<text transform="translate(16.0,386.7) rotate(-90)" font-size="8.8" stroke-width="0.35" text-anchor="middle" fill="#231f20" stroke="#231f20" textLength="67.6" lengthAdjust="spacingAndGlyphs">CD45.2<tspan font-size="4.5" dy="-2.6">+</tspan><tspan dy="2.6"> donor cells (%)</tspan></text>
<text x="71.35" y="438.4" font-size="9" text-anchor="middle" fill="#231f20" stroke="#231f20" >Control</text>
<text x="134.3" y="438.7" font-size="9" text-anchor="middle" fill="#231f20" stroke="#231f20" font-style="italic" >Lepr-Cre;</text>
<text x="125.4" y="449.2" font-size="9" fill="#231f20" stroke="#231f20" font-style="italic">Il6<tspan font-size="4.7" dy="-3.3" dx="2.2" stroke-width="0.15">fl/fl</tspan></text>
<rect x="167.5" y="340.5" width="6.4" height="6.4" fill="#195896" stroke="#111" stroke-width="0.8"/>
<rect x="167.5" y="350.9" width="6.4" height="6.4" fill="#d4153b" stroke="#111" stroke-width="0.8"/>
<text x="176.5" y="345.6" font-size="6.5" text-anchor="start" fill="#231f20" stroke="#231f20" >PBS</text>
<text x="176.5" y="356.0" font-size="6.5" text-anchor="start" fill="#231f20" stroke="#231f20" >LPS</text>
<path d="M53.5,341.1 L53.5,338.8 L117.2,338.8 L117.2,341.1" fill="none" stroke="#333" stroke-width="1.0"/>
<text x="86.25" y="336.3" font-size="8.5" text-anchor="middle" fill="#231f20" stroke="#231f20" stroke-width="0.15">ns</text>
<path d="M85.3,329.1 L85.3,326.8 L149.2,326.8 L149.2,329.1" fill="none" stroke="#5283b6" stroke-width="1.2"/>
<text x="118.15" y="324.4" font-size="8.5" text-anchor="middle" fill="#2e65a0" stroke="#2e65a0" stroke-width="0.15">ns</text>
<path d="M53.2,360.7 L53.2,358.4 L85.7,358.4 L85.7,360.7" fill="none" stroke="#333" stroke-width="1.0"/>
<text x="70.35" y="355.9" font-size="8.5" text-anchor="middle" fill="#231f20" stroke="#231f20" stroke-width="0.15">ns</text>
<path d="M117.3,354.1 L117.3,351.8 L149.1,351.8 L149.1,354.1" fill="none" stroke="#333" stroke-width="1.0"/>
<text x="134.1" y="349.3" font-size="8.5" text-anchor="middle" fill="#231f20" stroke="#231f20" stroke-width="0.15">ns</text>
<line x1="53.6" y1="388.6" x2="53.6" y2="411.3" stroke="#0e4b8c" stroke-width="0.85" />
<line x1="48.0" y1="388.6" x2="59.2" y2="388.6" stroke="#0e4b8c" stroke-width="0.95" />
<line x1="48.0" y1="411.3" x2="59.2" y2="411.3" stroke="#0e4b8c" stroke-width="0.95" />
<circle cx="51" cy="381.6" r="2.15" fill="#0e4b8c"/>
<circle cx="56.2" cy="384.4" r="2.15" fill="#0e4b8c"/>
<circle cx="53.8" cy="392.4" r="2.15" fill="#0e4b8c"/>
<circle cx="48.2" cy="396.1" r="2.15" fill="#0e4b8c"/>
<circle cx="53.8" cy="395.5" r="2.15" fill="#0e4b8c"/>
<circle cx="59.4" cy="398.9" r="2.15" fill="#0e4b8c"/>
<circle cx="45.4" cy="402.9" r="2.15" fill="#0e4b8c"/>
<circle cx="51" cy="402.9" r="2.15" fill="#0e4b8c"/>
<circle cx="56.6" cy="402.9" r="2.15" fill="#0e4b8c"/>
<circle cx="61.8" cy="402.2" r="2.15" fill="#0e4b8c"/>
<circle cx="53.8" cy="409.1" r="2.15" fill="#0e4b8c"/>
<circle cx="53.8" cy="425.2" r="2.15" fill="#0e4b8c"/>
<line x1="43.1" y1="400.0" x2="64.1" y2="400.0" stroke="#3f70a6" stroke-width="1.0" />
<line x1="85.7" y1="387.3" x2="85.7" y2="421.7" stroke="#cc0a2e" stroke-width="0.85" />
<line x1="80.10000000000001" y1="387.3" x2="91.3" y2="387.3" stroke="#cc0a2e" stroke-width="0.95" />
<line x1="80.10000000000001" y1="421.7" x2="91.3" y2="421.7" stroke="#cc0a2e" stroke-width="0.95" />
<circle cx="85.7" cy="364.5" r="2.15" fill="#cc0a2e"/>
<circle cx="85.7" cy="381.8" r="2.15" fill="#cc0a2e"/>
<circle cx="85.7" cy="389.9" r="2.15" fill="#cc0a2e"/>
<circle cx="85.7" cy="399.2" r="2.15" fill="#cc0a2e"/>
<circle cx="82" cy="401.6" r="2.15" fill="#cc0a2e"/>
<circle cx="89.1" cy="405.4" r="2.15" fill="#cc0a2e"/>
<circle cx="85.7" cy="410.9" r="2.15" fill="#cc0a2e"/>
<circle cx="92.8" cy="410.9" r="2.15" fill="#cc0a2e"/>
<circle cx="78.5" cy="414.3" r="2.15" fill="#cc0a2e"/>
<circle cx="85.4" cy="415.9" r="2.15" fill="#cc0a2e"/>
<circle cx="82" cy="418.9" r="2.15" fill="#cc0a2e"/>
<circle cx="89.1" cy="422.1" r="2.15" fill="#cc0a2e"/>
<circle cx="85.7" cy="427.4" r="2.15" fill="#cc0a2e"/>
<line x1="75.2" y1="404.8" x2="96.2" y2="404.8" stroke="#d8506c" stroke-width="1.3" />
<line x1="117.5" y1="374.4" x2="117.5" y2="409.4" stroke="#0e4b8c" stroke-width="0.85" />
<line x1="111.9" y1="374.4" x2="123.1" y2="374.4" stroke="#0e4b8c" stroke-width="0.95" />
<line x1="111.9" y1="409.4" x2="123.1" y2="409.4" stroke="#0e4b8c" stroke-width="0.95" />
<circle cx="114.7" cy="359.1" r="2.15" fill="#0e4b8c"/>
<circle cx="119.6" cy="358.7" r="2.15" fill="#0e4b8c"/>
<circle cx="119.6" cy="375.0" r="2.15" fill="#0e4b8c"/>
<circle cx="114.7" cy="377.3" r="2.15" fill="#0e4b8c"/>
<circle cx="117.3" cy="388.7" r="2.15" fill="#0e4b8c"/>
<circle cx="108.8" cy="391.5" r="2.15" fill="#0e4b8c"/>
<circle cx="114.7" cy="392.7" r="2.15" fill="#0e4b8c"/>
<circle cx="119.6" cy="397.0" r="2.15" fill="#0e4b8c"/>
<circle cx="124.6" cy="396.6" r="2.15" fill="#0e4b8c"/>
<circle cx="114.7" cy="401.9" r="2.15" fill="#0e4b8c"/>
<circle cx="109.4" cy="408.4" r="2.15" fill="#0e4b8c"/>
<circle cx="114.7" cy="409.7" r="2.15" fill="#0e4b8c"/>
<circle cx="119.6" cy="411.7" r="2.15" fill="#0e4b8c"/>
<circle cx="124.6" cy="413.7" r="2.15" fill="#0e4b8c"/>
<line x1="107.0" y1="392.1" x2="128.0" y2="392.1" stroke="#3f70a6" stroke-width="1.0" />
<line x1="149.1" y1="383.6" x2="149.1" y2="420.2" stroke="#cc0a2e" stroke-width="0.85" />
<line x1="143.5" y1="383.6" x2="154.7" y2="383.6" stroke="#cc0a2e" stroke-width="0.95" />
<line x1="143.5" y1="420.2" x2="154.7" y2="420.2" stroke="#cc0a2e" stroke-width="0.95" />
<circle cx="149.1" cy="366.1" r="2.15" fill="#cc0a2e"/>
<circle cx="146.6" cy="376.7" r="2.15" fill="#cc0a2e"/>
<circle cx="151.5" cy="376.0" r="2.15" fill="#cc0a2e"/>
<circle cx="146.6" cy="393.4" r="2.15" fill="#cc0a2e"/>
<circle cx="151.5" cy="392.1" r="2.15" fill="#cc0a2e"/>
<circle cx="149.1" cy="405.2" r="2.15" fill="#cc0a2e"/>
<circle cx="141.3" cy="410.1" r="2.15" fill="#cc0a2e"/>
<circle cx="146.6" cy="409.2" r="2.15" fill="#cc0a2e"/>
<circle cx="151.5" cy="408.8" r="2.15" fill="#cc0a2e"/>
<circle cx="157" cy="409.2" r="2.15" fill="#cc0a2e"/>
<circle cx="146.6" cy="414.7" r="2.15" fill="#cc0a2e"/>
<circle cx="151.5" cy="414.3" r="2.15" fill="#cc0a2e"/>
<circle cx="146.6" cy="420.2" r="2.15" fill="#cc0a2e"/>
<circle cx="151.5" cy="419.6" r="2.15" fill="#cc0a2e"/>
<circle cx="151.5" cy="424.9" r="2.15" fill="#cc0a2e"/>
<line x1="138.6" y1="402.3" x2="159.6" y2="402.3" stroke="#d8506c" stroke-width="1.3" />
<text x="308.4" y="314.2" font-size="9" text-anchor="middle" fill="#231f20" stroke="#231f20" >16 weeks</text>
<line x1="239" y1="342.2" x2="239" y2="428.9" stroke="#111" stroke-width="1.4" />
<line x1="235.9" y1="342.7" x2="239" y2="342.7" stroke="#111" stroke-width="1.15" />
<text x="234.9" y="346.0" font-size="7.6" text-anchor="end" fill="#231f20" stroke="#231f20" stroke-width="0.12">100</text>
<line x1="235.9" y1="359.8" x2="239" y2="359.8" stroke="#111" stroke-width="1.15" />
<text x="234.9" y="363.1" font-size="7.6" text-anchor="end" fill="#231f20" stroke="#231f20" stroke-width="0.12">80</text>
<line x1="235.9" y1="376.9" x2="239" y2="376.9" stroke="#111" stroke-width="1.15" />
<text x="234.9" y="380.2" font-size="7.6" text-anchor="end" fill="#231f20" stroke="#231f20" stroke-width="0.12">60</text>
<line x1="235.9" y1="394.0" x2="239" y2="394.0" stroke="#111" stroke-width="1.15" />
<text x="234.9" y="397.3" font-size="7.6" text-anchor="end" fill="#231f20" stroke="#231f20" stroke-width="0.12">40</text>
<line x1="235.9" y1="411.1" x2="239" y2="411.1" stroke="#111" stroke-width="1.15" />
<text x="234.9" y="414.4" font-size="7.6" text-anchor="end" fill="#231f20" stroke="#231f20" stroke-width="0.12">20</text>
<line x1="235.8" y1="428.2" x2="366.8" y2="428.2" stroke="#111" stroke-width="1.4" />
<line x1="366.3" y1="428.2" x2="366.3" y2="431.3" stroke="#111" stroke-width="1.1" />
<line x1="303.5" y1="428.2" x2="303.5" y2="431.3" stroke="#111" stroke-width="1.1" />
<line x1="303.5" y1="342.7" x2="303.5" y2="427.7" stroke="#8a8a8a" stroke-width="1.05" stroke-dasharray="3.4,2.6"/>
<text transform="translate(217.0,386.7) rotate(-90)" font-size="8.8" stroke-width="0.35" text-anchor="middle" fill="#231f20" stroke="#231f20" textLength="67.6" lengthAdjust="spacingAndGlyphs">CD45.2<tspan font-size="4.5" dy="-2.6">+</tspan><tspan dy="2.6"> donor cells (%)</tspan></text>
<text x="276.7" y="438.4" font-size="9" text-anchor="middle" fill="#231f20" stroke="#231f20" >Control</text>
<text x="337.3" y="438.7" font-size="9" text-anchor="middle" fill="#231f20" stroke="#231f20" font-style="italic" >Lepr-Cre;</text>
<text x="328.4" y="449.2" font-size="9" fill="#231f20" stroke="#231f20" font-style="italic">Il6<tspan font-size="4.7" dy="-3.3" dx="2.2" stroke-width="0.15">fl/fl</tspan></text>
<rect x="371.4" y="340.5" width="6.4" height="6.4" fill="#195896" stroke="#111" stroke-width="0.8"/>
<rect x="371.4" y="350.9" width="6.4" height="6.4" fill="#d4153b" stroke="#111" stroke-width="0.8"/>
<text x="380.4" y="345.6" font-size="6.5" text-anchor="start" fill="#231f20" stroke="#231f20" >PBS</text>
<text x="380.4" y="356.0" font-size="6.5" text-anchor="start" fill="#231f20" stroke="#231f20" >LPS</text>
<path d="M254.8,341.3 L254.8,339.0 L318.5,339.0 L318.5,341.3" fill="none" stroke="#333" stroke-width="1.0"/>
<text x="287.55" y="336.5" font-size="8.5" text-anchor="middle" fill="#231f20" stroke="#231f20" stroke-width="0.15">ns</text>
<path d="M286.2,328.8 L286.2,326.5 L350.2,326.5 L350.2,328.8" fill="none" stroke="#5283b6" stroke-width="1.2"/>
<text x="319.1" y="324.1" font-size="8.5" text-anchor="middle" fill="#2e65a0" stroke="#2e65a0" stroke-width="0.15">ns</text>
<path d="M254.7,355.7 L254.7,353.4 L287.2,353.4 L287.2,355.7" fill="none" stroke="#333" stroke-width="1.0"/>
<text x="271.85" y="350.7" font-size="8.5" text-anchor="middle" fill="#231f20" stroke="#231f20" stroke-width="0.15">ns</text>
<path d="M318.3,351.1 L318.3,348.8 L350.7,348.8 L350.7,351.1" fill="none" stroke="#333" stroke-width="1.0"/>
<text x="335.4" y="346.1" font-size="8.5" text-anchor="middle" fill="#231f20" stroke="#231f20" stroke-width="0.15">ns</text>
<line x1="255.3" y1="384.8" x2="255.3" y2="410.1" stroke="#0e4b8c" stroke-width="0.85" />
<line x1="249.70000000000002" y1="384.8" x2="260.90000000000003" y2="384.8" stroke="#0e4b8c" stroke-width="0.95" />
<line x1="249.70000000000002" y1="410.1" x2="260.90000000000003" y2="410.1" stroke="#0e4b8c" stroke-width="0.95" />
<circle cx="247.9" cy="380.7" r="2.15" fill="#0e4b8c"/>
<circle cx="255.3" cy="384.2" r="2.15" fill="#0e4b8c"/>
<circle cx="262.6" cy="383.6" r="2.15" fill="#0e4b8c"/>
<circle cx="251.8" cy="392.1" r="2.15" fill="#0e4b8c"/>
<circle cx="258.7" cy="392.7" r="2.15" fill="#0e4b8c"/>
<circle cx="262.6" cy="395.0" r="2.15" fill="#0e4b8c"/>
<circle cx="255.3" cy="396.6" r="2.15" fill="#0e4b8c"/>
<circle cx="247.9" cy="398.9" r="2.15" fill="#0e4b8c"/>
<circle cx="250.8" cy="399.9" r="2.15" fill="#0e4b8c"/>
<circle cx="258.7" cy="405.2" r="2.15" fill="#0e4b8c"/>
<circle cx="255.3" cy="412.3" r="2.15" fill="#0e4b8c"/>
<circle cx="255.3" cy="425.5" r="2.15" fill="#0e4b8c"/>
<line x1="244.8" y1="397.6" x2="265.8" y2="397.6" stroke="#3f70a6" stroke-width="1.0" />
<line x1="286.8" y1="382.8" x2="286.8" y2="421.5" stroke="#cc0a2e" stroke-width="0.85" />
<line x1="281.2" y1="382.8" x2="292.40000000000003" y2="382.8" stroke="#cc0a2e" stroke-width="0.95" />
<line x1="281.2" y1="421.5" x2="292.40000000000003" y2="421.5" stroke="#cc0a2e" stroke-width="0.95" />
<circle cx="286.8" cy="360.2" r="2.15" fill="#cc0a2e"/>
<circle cx="286.8" cy="373.4" r="2.15" fill="#cc0a2e"/>
<circle cx="286.8" cy="382.8" r="2.15" fill="#cc0a2e"/>
<circle cx="286.8" cy="395.4" r="2.15" fill="#cc0a2e"/>
<circle cx="286.8" cy="401.9" r="2.15" fill="#cc0a2e"/>
<circle cx="286.8" cy="408.2" r="2.15" fill="#cc0a2e"/>
<circle cx="292.1" cy="409.2" r="2.15" fill="#cc0a2e"/>
<circle cx="278.3" cy="414.3" r="2.15" fill="#cc0a2e"/>
<circle cx="281.3" cy="413.1" r="2.15" fill="#cc0a2e"/>
<circle cx="284.8" cy="414.7" r="2.15" fill="#cc0a2e"/>
<circle cx="289.7" cy="415.2" r="2.15" fill="#cc0a2e"/>
<circle cx="295" cy="418.2" r="2.15" fill="#cc0a2e"/>
<circle cx="286.8" cy="426.3" r="2.15" fill="#cc0a2e"/>
<line x1="276.3" y1="402.5" x2="297.3" y2="402.5" stroke="#d8506c" stroke-width="1.3" />
<line x1="318.7" y1="371.4" x2="318.7" y2="408.8" stroke="#0e4b8c" stroke-width="0.85" />
<line x1="313.09999999999997" y1="371.4" x2="324.3" y2="371.4" stroke="#0e4b8c" stroke-width="0.95" />
<line x1="313.09999999999997" y1="408.8" x2="324.3" y2="408.8" stroke="#0e4b8c" stroke-width="0.95" />
<circle cx="315.1" cy="357.1" r="2.15" fill="#0e4b8c"/>
<circle cx="322.2" cy="354.3" r="2.15" fill="#0e4b8c"/>
<circle cx="318.7" cy="368.5" r="2.15" fill="#0e4b8c"/>
<circle cx="318.7" cy="374.8" r="2.15" fill="#0e4b8c"/>
<circle cx="315.1" cy="389.1" r="2.15" fill="#0e4b8c"/>
<circle cx="322.2" cy="388.7" r="2.15" fill="#0e4b8c"/>
<circle cx="315.1" cy="392.7" r="2.15" fill="#0e4b8c"/>
<circle cx="322.2" cy="394.6" r="2.15" fill="#0e4b8c"/>
<circle cx="318.7" cy="398.0" r="2.15" fill="#0e4b8c"/>
<circle cx="325.5" cy="397.4" r="2.15" fill="#0e4b8c"/>
<circle cx="311.8" cy="401.5" r="2.15" fill="#0e4b8c"/>
<circle cx="311.8" cy="404.4" r="2.15" fill="#0e4b8c"/>
<circle cx="318.7" cy="402.5" r="2.15" fill="#0e4b8c"/>
<circle cx="315.1" cy="408.4" r="2.15" fill="#0e4b8c"/>
<circle cx="325.5" cy="408.4" r="2.15" fill="#0e4b8c"/>
<circle cx="318.7" cy="416.2" r="2.15" fill="#0e4b8c"/>
<line x1="308.2" y1="390.3" x2="329.2" y2="390.3" stroke="#3f70a6" stroke-width="1.0" />
<line x1="350.3" y1="382.8" x2="350.3" y2="420.6" stroke="#cc0a2e" stroke-width="0.85" />
<line x1="344.7" y1="382.8" x2="355.90000000000003" y2="382.8" stroke="#cc0a2e" stroke-width="0.95" />
<line x1="344.7" y1="420.6" x2="355.90000000000003" y2="420.6" stroke="#cc0a2e" stroke-width="0.95" />
<circle cx="350.5" cy="361.6" r="2.15" fill="#cc0a2e"/>
<circle cx="350.5" cy="372.0" r="2.15" fill="#cc0a2e"/>
<circle cx="350.5" cy="380.3" r="2.15" fill="#cc0a2e"/>
<circle cx="353" cy="390.7" r="2.15" fill="#cc0a2e"/>
<circle cx="347.7" cy="395.6" r="2.15" fill="#cc0a2e"/>
<circle cx="347.7" cy="403.9" r="2.15" fill="#cc0a2e"/>
<circle cx="353" cy="408.8" r="2.15" fill="#cc0a2e"/>
<circle cx="358.3" cy="409.7" r="2.15" fill="#cc0a2e"/>
<circle cx="342.2" cy="413.1" r="2.15" fill="#cc0a2e"/>
<circle cx="347.7" cy="413.7" r="2.15" fill="#cc0a2e"/>
<circle cx="345.2" cy="420.2" r="2.15" fill="#cc0a2e"/>
<circle cx="351.1" cy="420.6" r="2.15" fill="#cc0a2e"/>
<circle cx="355.6" cy="422.9" r="2.15" fill="#cc0a2e"/>
<line x1="339.8" y1="401.9" x2="360.8" y2="401.9" stroke="#d8506c" stroke-width="1.3" />
<rect x="0.75" y="0.75" width="518.5" height="456.5" fill="none" stroke="#000" stroke-width="1.5"/>
</svg>
</div></body></html>
